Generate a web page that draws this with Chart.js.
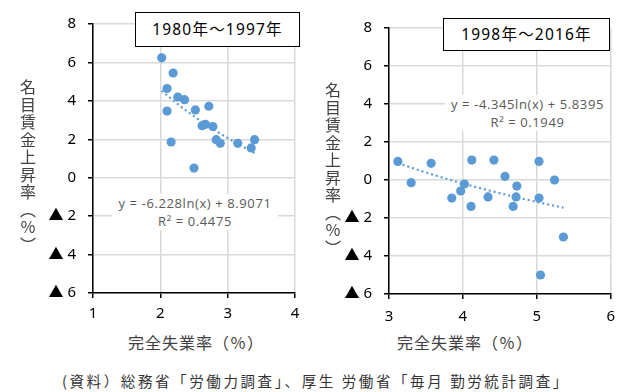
<!DOCTYPE html>
<html>
<head>
<meta charset="utf-8">
<script src="https://cdn.jsdelivr.net/npm/chart.js@4.4.0/dist/chart.umd.min.js"></script>
<style>
  body { margin:0; width:624px; height:392px; background:#fff; position:relative; overflow:hidden;
         font-family:"Noto Sans CJK JP", sans-serif; }
  canvas { position:absolute; top:0; }
  .box { position:absolute; border:1.5px solid #000; background:#fff; box-sizing:border-box;
         font-size:15.5px; color:#000; text-align:center; letter-spacing:1.2px; font-family:"Noto Sans","Noto Sans CJK JP",sans-serif; }
  .eq { position:absolute; background:#fff; color:#595959; font-size:13px; text-align:center; line-height:18px;
        font-family:"Open Sans","Noto Sans",sans-serif; letter-spacing:0.6px; }
  .ytitle { position:absolute; writing-mode:vertical-rl; font-size:16px; color:#404040; letter-spacing:1.5px; }
  .xtitle { position:absolute; font-size:16px; color:#404040; letter-spacing:1px; white-space:nowrap; }
  .note { position:absolute; left:62px; top:370px; font-size:14.5px; color:#333; letter-spacing:2.6px; white-space:nowrap; }
</style>
</head>
<body>
<canvas id="left" width="312" height="330" style="left:0"></canvas>
<canvas id="right" width="312" height="330" style="left:312px"></canvas>

<div class="box" style="left:135px;top:12px;width:165px;height:35px;line-height:32px">1980年～1997年</div>
<div class="box" style="left:443px;top:18px;width:167px;height:33px;line-height:30px">1998年～2016年</div>

<div class="eq" style="left:112px;top:194px;width:166px">y = -6.228ln(x) + 8.9071<br>R² = 0.4475</div>
<div class="eq" style="left:445px;top:95px;width:165px">y = -4.345ln(x) + 5.8395<br>R² = 0.1949</div>

<div class="ytitle" style="left:16px;top:79px">名目賃金上昇率（％）</div>
<div class="ytitle" style="left:321px;top:82px">名目賃金上昇率（％）</div>

<div class="xtitle" style="left:128px;top:330px">完全失業率（％）</div>
<div class="xtitle" style="left:397px;top:330px">完全失業率（％）</div>

<div class="note">(資料）総務省「労働力調査」、厚生 労働省「毎月 勤労統計調査」</div>

<script>
// 1980年～1997年
const unemp1 = [2.02, 2.19, 2.10, 2.26, 2.36, 2.10, 2.52, 2.72, 2.62, 2.67, 2.78, 2.83, 2.89, 3.15, 3.35, 3.40, 2.16, 2.50];
const wage1  = [6.24, 5.45, 4.64, 4.20, 4.06, 3.47, 3.53, 3.72, 2.71, 2.78, 2.66, 1.98, 1.79, 1.79, 1.55, 1.98, 1.86, 0.50];
// 1998年～2016年
const unemp2 = [3.12, 3.30, 3.57, 3.85, 3.97, 4.02, 4.11, 4.12, 4.34, 4.42, 4.57, 4.68, 4.72, 4.73, 5.03, 5.03, 5.05, 5.24, 5.36];
const wage2  = [0.98, -0.14, 0.88, -0.95, -0.58, -0.21, -1.39, 1.05, -0.89, 1.05, 0.19, -1.39, -0.89, -0.32, 0.98, -0.95, -5.0, 0.0, -3.0];

// 近似曲線（対数）の係数 — 図中の式より
const fit1 = { a: -6.228, b: 8.9071 };
const fit2 = { a: -4.345, b: 5.8395 };

const yTicks = [-6, -4, -2, 0, 2, 4, 6, 8];
const yTickLabels = ['▲ 6', '▲ 4', '▲ 2', '0', '2', '4', '6', '8'];
const xTicks1 = [1, 2, 3, 4];
const xTicks2 = [3, 4, 5, 6];

const blue = '#5B9BD5';
const tickFont = { family: "'Noto Sans', 'Noto Sans CJK JP', sans-serif", size: 15 };

function trend(xs, fit) {
    const lo = Math.min(...xs), hi = Math.max(...xs);
    const pts = [];
    for (let i = 0; i <= 40; i++) {
        const x = lo + (hi - lo) * i / 40;
        pts.push({ x: x, y: fit.a * Math.log(x) + fit.b });
    }
    return pts;
}

function makeChart(id, xs, ys, fit, xTicks, pad, yW, xH, yPad, xPad) {
    const ctx = document.getElementById(id).getContext('2d');
    return new Chart(ctx, {
        type: 'scatter',
        data: {
            datasets: [{
                data: xs.map((x, i) => ({ x: x, y: ys[i] })),
                backgroundColor: blue,
                borderWidth: 0,
                pointRadius: 4.6,
                order: 1
            }, {
                type: 'line',
                data: trend(xs, fit),
                borderColor: blue,
                borderWidth: 2.2,
                borderDash: [2, 3],
                pointRadius: 0,
                fill: false,
                order: 2
            }]
        },
        options: {
            responsive: false,
            animation: false,
            layout: { padding: pad },
            plugins: { legend: { display: false }, tooltip: { enabled: false } },
            scales: {
                x: {
                    type: 'linear',
                    min: xTicks[0], max: xTicks[xTicks.length - 1],
                    afterBuildTicks: s => { s.ticks = xTicks.map(v => ({ value: v })); },
                    afterFit: s => { s.height = xH; },
                    grid: { color: '#d9d9d9', lineWidth: 1.5, tickColor: '#000', tickLength: 5 },
                    border: { color: '#000', width: 1.5 },
                    ticks: { font: tickFont, color: '#000', padding: xPad }
                },
                y: {
                    min: -6, max: 8,
                    afterBuildTicks: s => { s.ticks = yTicks.map(v => ({ value: v })); },
                    afterFit: s => { s.width = yW; },
                    grid: { color: '#d9d9d9', lineWidth: 1.5, tickColor: '#000', tickLength: 5 },
                    border: { color: '#000', width: 1.5 },
                    ticks: {
                        font: tickFont, color: '#000', padding: yPad,
                        callback: v => { const i = yTicks.indexOf(v); return i < 0 ? '' : yTickLabels[i]; }
                    }
                }
            }
        }
    });
}

makeChart('left', unemp1, wage1, fit1, xTicks1, { left: 0, right: 17, top: 24, bottom: 0 }, 93, 37, 12, 7);
makeChart('right', unemp2, wage2, fit2, xTicks2, { left: 0, right: 9, top: 28, bottom: 0 }, 77, 36, 12, 9);
</script>
</body>
</html>
